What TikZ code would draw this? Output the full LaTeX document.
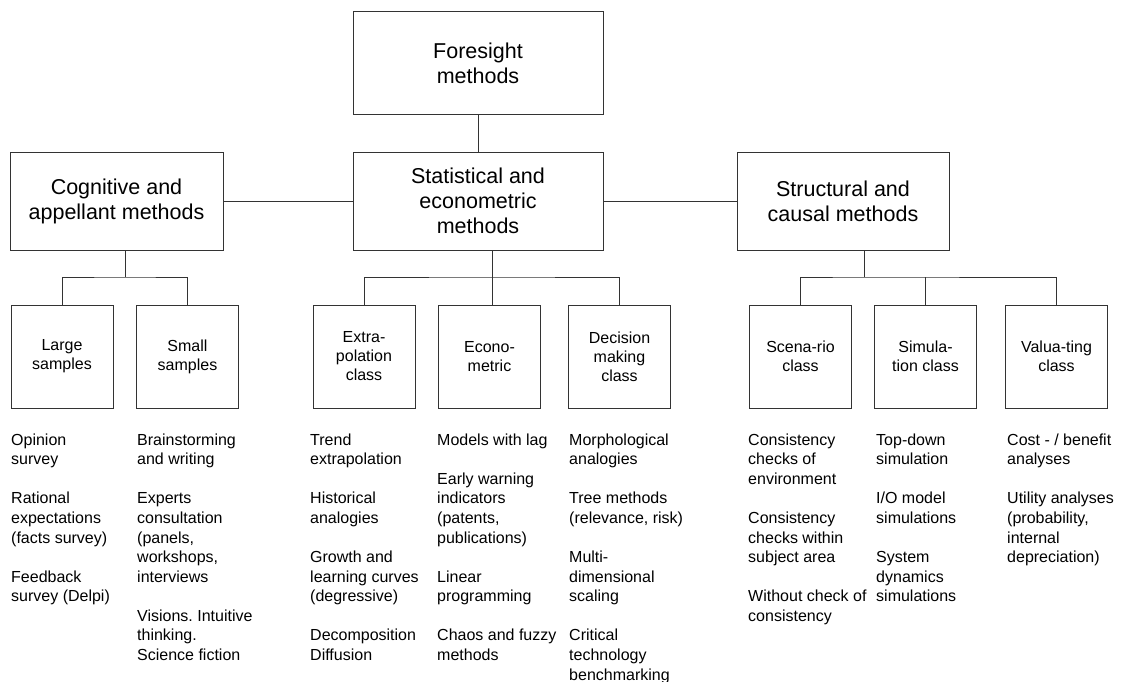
\documentclass[tikz,border=0pt]{standalone}
\usepackage{fontspec}
\setmainfont{Liberation Sans}
\frenchspacing
\begin{document}
\begin{tikzpicture}[x=1pt,y=-1pt,
  line/.style={draw=black!80, line width=1pt},
  box/.style={draw=black!80, line width=1pt, align=center, inner sep=0pt},
  topbox/.style={box, font=\fontsize{21.5}{25}\selectfont},
  classbox/.style={box, minimum width=102pt, minimum height=103pt,
    font=\fontsize{16}{19}\selectfont},
  list/.style={anchor=north west, align=left, inner sep=0pt,
    font=\fontsize{16}{19.57}\selectfont}
]
\useasboundingbox (0,0) rectangle (1121,682);
\def\gap{\\[19.57pt]}

% top and first level
\node[topbox, minimum width=250pt, minimum height=103pt] (fs) at (478,63.5) {Foresight\\methods};
\node[topbox, minimum width=213pt, minimum height=98pt] (cg) at (116.5,201) {Cognitive and\\appellant methods};
\node[topbox, minimum width=250pt, minimum height=98pt] (st) at (478,201) {Statistical and\\econometric\\methods};
\node[topbox, minimum width=212pt, minimum height=98pt] (sc) at (843,201) {Structural and\\causal methods};

% second level
\node[classbox] (ls) at (62,356.5) {Large\\samples};
\node[classbox] (ss) at (187.5,356.5) {Small\\samples};
\node[classbox] (ex) at (364,356.5) {Extra-\\polation\\class};
\node[classbox] (ec) at (489.5,356.5) {Econo-\\metric};
\node[classbox] (dm) at (619.5,356.5) {Decision\\making\\class};
\node[classbox] (sr) at (800.5,356.5) {Scena-rio\\class};
\node[classbox] (sm) at (925.5,356.5) {Simula-\\tion class};
\node[classbox] (vc) at (1056.5,356.5) {Valua-ting\\class};

% method lists
\node[list] (l1) at (11,431.3) {\strut Opinion\\survey\gap Rational\\expectations\\(facts survey)\gap Feedback\\survey (Delpi)};
\node[list] (l2) at (137,431.3) {\strut Brainstorming\\and writing\gap Experts\\consultation\\(panels,\\workshops,\\interviews\gap Visions. Intuitive\\thinking.\\Science fiction};
\node[list] (l3) at (310,431.3) {\strut Trend\\extrapolation\gap Historical\\analogies\gap Growth and\\learning curves\\(degressive)\gap Decomposition\\Diffusion};
\node[list] (l4) at (437,431.3) {\strut Models with lag\gap Early warning\\indicators\\(patents,\\publications)\gap Linear\\programming\gap Chaos and fuzzy\\methods};
\node[list] (l5) at (569,431.3) {\strut Morphological\\analogies\gap Tree methods\\(relevance, risk)\gap Multi-\\dimensional\\scaling\gap Critical\\technology\\benchmarking};
\node[list] (l6) at (748,431.3) {\strut Consistency\\checks of\\environment\gap Consistency\\checks within\\subject area\gap Without check of\\consistency};
\node[list] (l7) at (876,431.3) {\strut Top-down\\simulation\gap I/O model\\simulations\gap System\\dynamics\\simulations};
\node[list] (l8) at (1007,431.3) {\strut Cost - / benefit\\analyses\gap Utility analyses\\(probability,\\internal\\depreciation)};

% bus junctions
\coordinate (cgbus) at (125,277);
\coordinate (stbus) at (492,277);
\coordinate (scbus) at (864,277);

% connectors
\draw[line] (fs) -- (st);
\draw[line] (cg) -- (st);
\draw[line] (st) -- (sc);

\draw[line] (cg.south -| cgbus) -- (cgbus);
\draw[line] (ls.north) |- (cgbus) -| (ss.north);

\draw[line] (st.south -| stbus) -- (stbus);
\draw[line] (ex.north) |- (stbus) -| (dm.north);
\draw[line] (stbus) -- (stbus |- ec.north);

\draw[line] (sc.south -| scbus) -- (scbus);
\draw[line] (sr.north) |- (scbus) -| (vc.north);
\draw[line] (sm.north |- scbus) -- (sm.north);
\end{tikzpicture}
\end{document}
